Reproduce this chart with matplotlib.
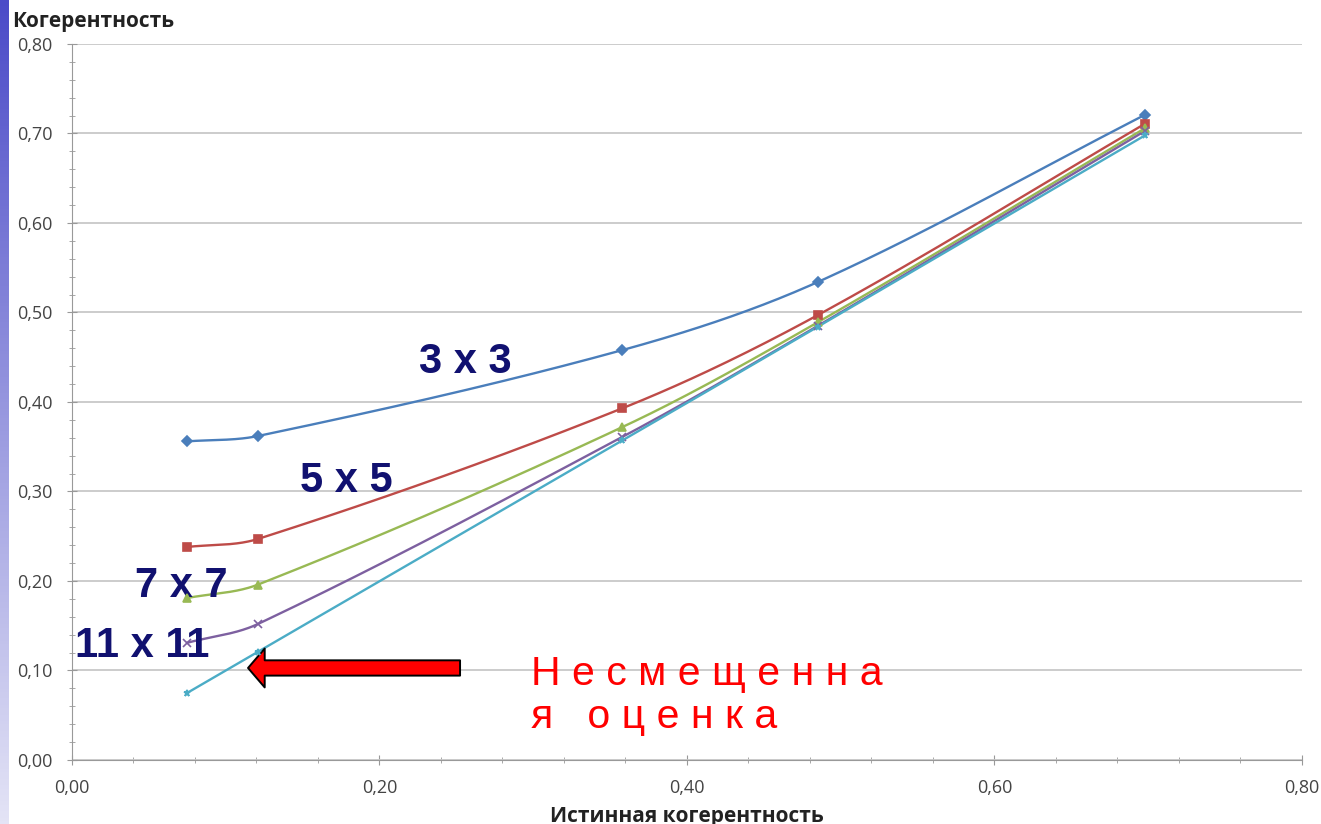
import numpy as np
import matplotlib.pyplot as plt
from matplotlib.colors import LinearSegmentedColormap
from matplotlib.ticker import MultipleLocator, FuncFormatter

# data
true_coh = [0.075, 0.121, 0.358, 0.485, 0.698]
est_3x3 = [0.356, 0.362, 0.458, 0.534, 0.721]
est_5x5 = [0.238, 0.247, 0.393, 0.497, 0.711]
est_7x7 = [0.181, 0.196, 0.372, 0.489, 0.706]
est_11x11 = [0.131, 0.152, 0.361, 0.485, 0.703]
unbiased = [0.075, 0.121, 0.357, 0.484, 0.698]

series = [
    (est_3x3, '#4A7EBB', 'D', 5),
    (est_5x5, '#BE4B48', 's', 5.5),
    (est_7x7, '#98B954', '^', 5.5),
    (est_11x11, '#7D60A0', 'x', 5.5),
    (unbiased, '#4BACC6', '*', 5),
]

Y_ASPECT = 895 / 1537.5  # y units look shorter than x units on screen


def smooth(x, y, n=50):
    # Bezier smoothing similar to Excel "smoothed line"
    p = np.column_stack([np.asarray(x, float), np.asarray(y, float) * Y_ASPECT])
    k = len(p)
    tang = []
    for i in range(k):
        if i == 0:
            d = p[1] - p[0]
        elif i == k - 1:
            d = p[-1] - p[-2]
        else:
            d = p[i + 1] - p[i - 1]
        tang.append(d / np.linalg.norm(d))
    t = np.linspace(0, 1, n)[:, None]
    out = []
    for i in range(k - 1):
        L = np.linalg.norm(p[i + 1] - p[i])
        b0, b3 = p[i], p[i + 1]
        b1 = b0 + tang[i] * L / 3
        b2 = b3 - tang[i + 1] * L / 3
        seg = (1 - t) ** 3 * b0 + 3 * (1 - t) ** 2 * t * b1 + 3 * (1 - t) * t ** 2 * b2 + t ** 3 * b3
        out.append(seg)
    out = np.vstack(out)
    return out[:, 0], out[:, 1] / Y_ASPECT


plt.rcParams['font.family'] = ['Open Sans', 'DejaVu Sans']

fig = plt.figure(figsize=(13.21, 8.24), dpi=100)

# gradient strip on the left edge
strip = fig.add_axes([0, 0, 0.0065, 1])
grad = np.linspace(0, 1, 256)[:, None]
strip.imshow(grad, aspect='auto', extent=[0, 1, 0, 1],
             cmap=LinearSegmentedColormap.from_list('g', ['#4B4BC8', '#E4E4F6']))
strip.axis('off')

ax = fig.add_axes([0.0545, 0.0777, 0.9311, 0.8689])

for y, c, m, ms in series:
    xs, ys = smooth(true_coh, y)
    ax.plot(xs, ys, color=c, lw=1.7, zorder=3)
    ax.plot(true_coh, y, linestyle='none', marker=m, color=c, ms=ms, mew=1.2, zorder=4)

ax.set_xlim(0, 0.8)
ax.set_ylim(0, 0.8)
ax.xaxis.set_major_locator(MultipleLocator(0.2))
ax.xaxis.set_minor_locator(MultipleLocator(0.04))
ax.yaxis.set_major_locator(MultipleLocator(0.1))
ax.yaxis.set_minor_locator(MultipleLocator(0.02))
fmt = FuncFormatter(lambda v, p: f'{v:.2f}'.replace('.', ','))
ax.xaxis.set_major_formatter(fmt)
ax.yaxis.set_major_formatter(fmt)
ax.tick_params(which='both', direction='inout', colors='#999999', labelcolor='#444444',
               labelsize=13)
ax.tick_params(which='major', length=7)
ax.tick_params(which='minor', length=5)
ax.tick_params(axis='y', pad=10.5)
ax.tick_params(axis='x', pad=10)
ax.grid(axis='y', color='#C8C8C8', lw=1.3)
ax.set_axisbelow(True)
for s in ['top', 'right']:
    ax.spines[s].set_visible(False)
for s in ['left', 'bottom']:
    ax.spines[s].set_color('#999999')

fig.text(0.009, 0.967, 'Когерентность', fontsize=15, fontweight='bold', color='#222222',
         ha='left', va='baseline')
fig.text(0.52, 0.003, 'Истинная когерентность', fontsize=15, fontweight='bold',
         color='#222222', ha='center', va='baseline')

# window size labels
lab = dict(fontsize=30, fontweight='bold', color='#111170', family='Liberation Sans',
           va='baseline', ha='left')
ax.text(0.2257, 0.4324, '3 x 3', **lab)
ax.text(0.1483, 0.2994, '5 x 5', **lab)
ax.text(0.041, 0.1821, '7 x 7', **lab)
ax.text(0.002, 0.1151, '11 x 11', **lab)

ax.annotate('', xy=(0.1145, 0.1028), xytext=(0.2524, 0.1028),
            arrowprops=dict(arrowstyle='simple,head_width=2.8,head_length=1.2,tail_width=1.1',
                            fc='#FF0000', ec='black', lw=1.4, mutation_scale=10,
                            shrinkA=0, shrinkB=0))

red = dict(fontsize=29.5, color='#FF0000', family='Liberation Sans', va='baseline', ha='left')
ax.text(0.2986, 0.0838, 'Н е с м е щ е н н а', **red)
ax.text(0.2986, 0.0358, 'я   о ц е н к а', **red)

fig.savefig('out.png', dpi=100)
